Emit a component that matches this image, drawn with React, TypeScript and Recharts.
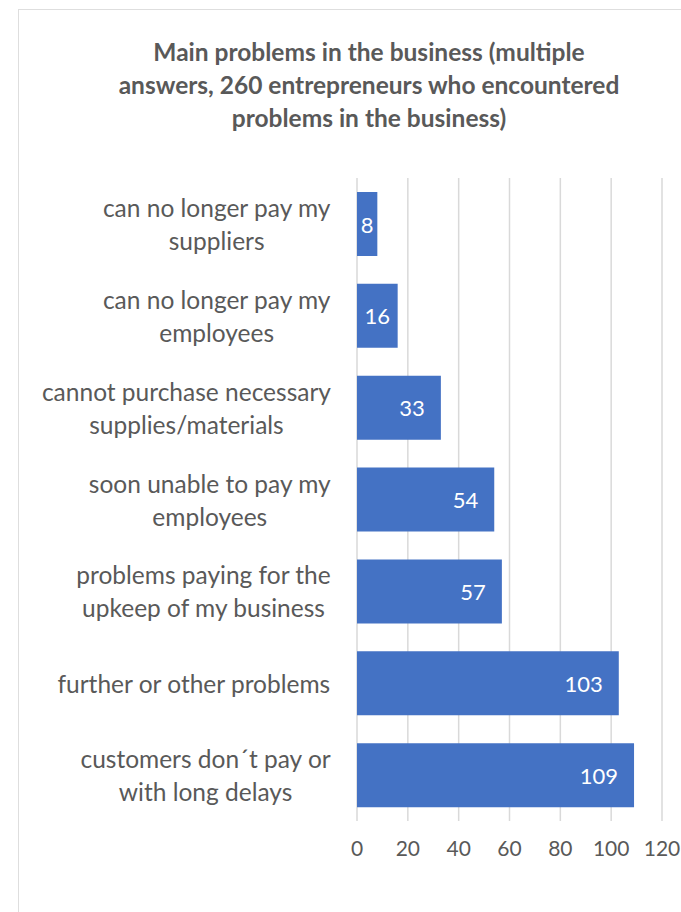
import { BarChart, Bar, XAxis, YAxis, CartesianGrid, LabelList } from "recharts";

const categories = [
  "can no longer pay my\nsuppliers",
  "can no longer pay my\nemployees",
  "cannot purchase necessary\nsupplies/materials",
  "soon unable to pay my\nemployees",
  "problems paying for the\nupkeep of my business",
  "further or other problems",
  "customers don\u00b4t pay or\nwith long delays",
];
const counts = [8, 16, 33, 54, 57, 103, 109];
const xTicks = [0, 20, 40, 60, 80, 100, 120];
const titleLines = [
  "Main problems in the business (multiple",
  "answers, 260 entrepreneurs who encountered",
  "problems in the business)",
];

const data = categories.map((name, i) => ({ name, value: counts[i] }));

const FONT = "Lato, 'Open Sans', sans-serif";
const GREY = "#595959";

let ctx: CanvasRenderingContext2D | null = null;
function textWidth(s: string, font: string) {
  if (!ctx) ctx = document.createElement("canvas").getContext("2d");
  if (!ctx) return s.length * 12;
  ctx.font = font;
  return ctx.measureText(s).width;
}

function CategoryTick(props: any) {
  const { y, payload } = props;
  const lines = String(payload.value).split("\n");
  const w = Math.max(...lines.map((l) => textWidth(l, "24.5px Lato")));
  const cx = 331 - w / 2;
  const lh = 33;
  const top = y - ((lines.length - 1) * lh) / 2;
  return (
    <g>
      {lines.map((l, i) => (
        <text
          key={i}
          x={cx}
          y={top + i * lh}
          textAnchor="middle"
          dominantBaseline="central"
          fill={GREY}
          fontSize={24.5}
          fontFamily={FONT}
        >
          {l}
        </text>
      ))}
    </g>
  );
}

function ValueLabel(props: any) {
  const { x, y, width, height, value } = props;
  const tw = textWidth(String(value), "22px Lato");
  let cx = x + width - 16 - tw / 2;
  if (cx - tw / 2 < x + 5) cx = x + width / 2;
  return (
    <text
      x={cx}
      y={y + height / 2}
      textAnchor="middle"
      dominantBaseline="central"
      fill="#ffffff"
      fontSize={22}
      fontFamily={FONT}
    >
      {value}
    </text>
  );
}

export default function App() {
  return (
    <div
      style={{
        position: "absolute",
        left: 0,
        top: 0,
        width: 681,
        height: 912,
        overflow: "hidden",
        background: "#fff",
      }}
    >
      <div
        style={{
          position: "absolute",
          left: 18,
          top: 9,
          width: 720,
          height: 960,
          border: "1.5px solid #dedede",
        }}
      />
      <div
        style={{
          position: "absolute",
          left: 19,
          top: 35,
          width: 700,
          textAlign: "center",
          fontFamily: FONT,
          fontWeight: 700,
          fontSize: 24.5,
          lineHeight: "33px",
          color: GREY,
        }}
      >
        {titleLines.map((t, i) => (
          <div key={i}>{t}</div>
        ))}
      </div>
      <div style={{ position: "absolute", left: 0, top: 0 }}>
        <BarChart
          width={681}
          height={912}
          data={data}
          layout="vertical"
          barSize={64}
          margin={{ top: 178, right: 19, bottom: 51, left: 0 }}
        >
          <CartesianGrid horizontal={false} stroke="#d9d9d9" strokeWidth={1.5} />
          <XAxis
            type="number"
            domain={[0, 120]}
            ticks={xTicks}
            height={40}
            axisLine={false}
            tickLine={false}
            tick={{ fontSize: 21, fill: GREY, fontFamily: FONT }}
            tickMargin={14}
            interval={0}
          />
          <YAxis
            type="category"
            dataKey="name"
            width={357}
            axisLine={false}
            tickLine={false}
            tick={<CategoryTick />}
            interval={0}
          />
          <Bar dataKey="value" fill="#4472C4" isAnimationActive={false}>
            <LabelList dataKey="value" content={<ValueLabel />} />
          </Bar>
        </BarChart>
      </div>
    </div>
  );
}
